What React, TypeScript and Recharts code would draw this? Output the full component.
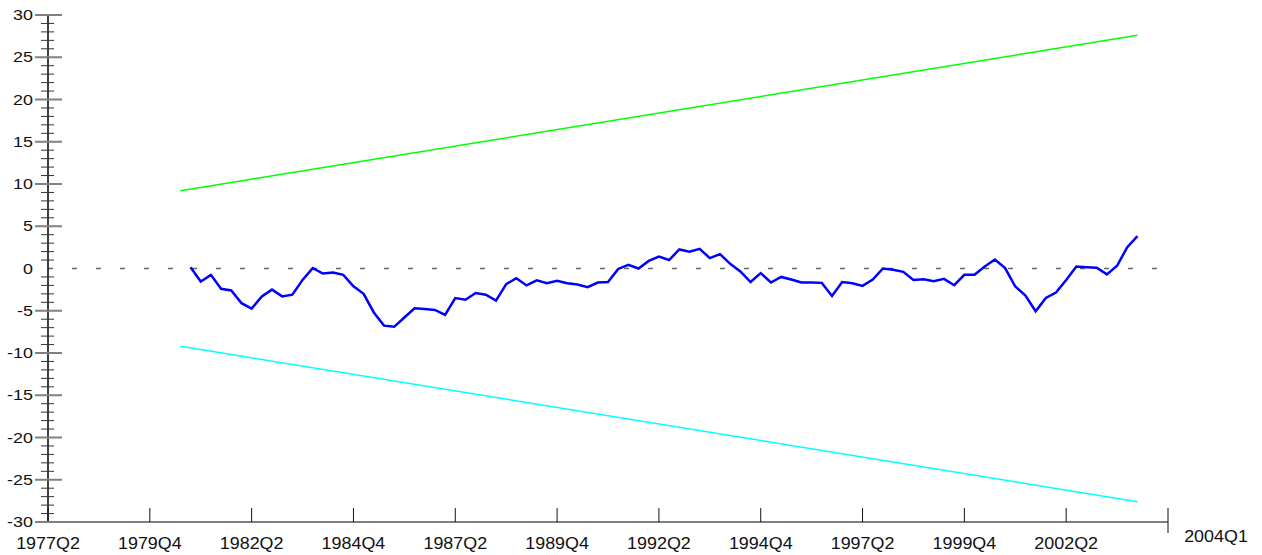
import React from 'react';
import { LineChart, Line, XAxis, YAxis, ReferenceLine } from 'recharts';

// quarter index 0 = 1977Q2, 10 quarters per labelled tick
const xTickPos = [0, 10, 20, 30, 40, 50, 60, 70, 80, 90, 100, 110];
const xTickLabels = ['1977Q2', '1979Q4', '1982Q2', '1984Q4', '1987Q2', '1989Q4', '1992Q2', '1994Q4', '1997Q2', '1999Q4', '2002Q2', '2004Q1'];

const yMajor = [-30, -25, -20, -15, -10, -5, 0, 5, 10, 15, 20, 25, 30];

// CUSUM statistic, first value at quarter 14 (1980Q4)
const cusumStart = 14;
const cusumValues = [
  0.15, -1.54, -0.75, -2.4, -2.6, -4.1, -4.75, -3.3, -2.5, -3.3, -3.1, -1.35, 0.05, -0.6, -0.47, -0.75,
  -2.1, -3.0, -5.2, -6.76, -6.9, -5.8, -4.7, -4.8, -4.9, -5.5, -3.5, -3.7, -2.9, -3.1, -3.8,
  -1.85, -1.15, -2.0, -1.4, -1.74, -1.46, -1.74, -1.9, -2.2, -1.66, -1.6, -0.05, 0.43, 0, 0.9, 1.4,
  1.0, 2.25, 2.0, 2.33, 1.23, 1.7, 0.55, -0.35, -1.6, -0.55, -1.66, -1.0, -1.3, -1.66, -1.66, -1.7,
  -3.25, -1.6, -1.74, -2.06, -1.3, 0, -0.15, -0.4, -1.35, -1.27, -1.5, -1.23, -1.98, -0.75, -0.75,
  0.24, 1.07, 0.04, -2.13, -3.2, -5.06, -3.48, -2.85, -1.35, 0.24, 0.15, 0.08, -0.7, 0.32, 2.53, 3.83,
];

// 5% significance bounds (straight lines)
const boundQuarters = [13, 107];
const upperBound = [9.2, 27.6];
const lowerBound = [-9.2, -27.6];

const cusumData = cusumValues.map((v, i) => ({ q: cusumStart + i, v }));
const upperData = boundQuarters.map((q, i) => ({ q, v: upperBound[i] }));
const lowerData = boundQuarters.map((q, i) => ({ q, v: lowerBound[i] }));

// every unit gets a small tick
const yTicks: number[] = [];
for (let t = -30; t <= 30; t++) yTicks.push(t);

const FONT = '"Liberation Sans", Arial, sans-serif';

const YTick: React.FC<any> = ({ x, y, payload }) => {
  const v = payload.value;
  const major = yMajor.includes(v);
  return (
    <g>
      {v !== 0 && (
        <line
          x1={major ? x - 13 : x - 7}
          x2={major ? x + 14 : x + 6}
          y1={y}
          y2={y}
          stroke={major ? '#808080' : '#333'}
          strokeWidth={major ? 2 : 1}
        />
      )}
      {major && (
        <text
          transform={`translate(${x - 15},${y}) scale(1.28,1)`}
          textAnchor="end"
          dy="0.36em"
          fontSize={14}
          fontFamily={FONT}
          fill="#111"
        >
          {v}
        </text>
      )}
    </g>
  );
};

const XTick: React.FC<any> = ({ x, y, payload, index }) => {
  const last = index === xTickPos.length - 1;
  const label = xTickLabels[xTickPos.indexOf(payload.value)];
  return (
    <g>
      <line x1={x} x2={x} y1={y - 14} y2={last ? y + 11 : y} stroke="#111" strokeWidth={1} />
      <text
        transform={`translate(${last ? x + 48 : x},${last ? y + 20 : y + 27}) scale(1.12,1)`}
        textAnchor="middle"
        fontSize={16}
        fontFamily={FONT}
        fill="#111"
      >
        {label}
      </text>
    </g>
  );
};

const App: React.FC = () => {
  return (
    <div style={{ position: 'absolute', left: 0, top: 0, width: 1262, height: 555, background: '#fff' }}>
      <LineChart width={1262} height={555} margin={{ top: 15, right: 94, bottom: 0, left: 0 }}>
        <XAxis
          type="number"
          dataKey="q"
          domain={[0, 110]}
          ticks={xTickPos}
          interval={0}
          height={33}
          tickSize={0}
          tickMargin={0}
          tickLine={false}
          axisLine={{ stroke: '#808080', strokeWidth: 2 }}
          tick={<XTick />}
          allowDuplicatedCategory={false}
        />
        <YAxis
          type="number"
          domain={[-30, 30]}
          ticks={yTicks}
          interval={0}
          width={48}
          tickSize={0}
          tickMargin={0}
          tickLine={false}
          axisLine={{ stroke: '#000', strokeWidth: 1.5 }}
          tick={<YTick />}
        />
        <ReferenceLine y={0} stroke="#666" strokeWidth={1.5} strokeDasharray="5 19" />
        <Line data={upperData} dataKey="v" stroke="#00ff00" strokeWidth={1.5} dot={false} isAnimationActive={false} />
        <Line data={lowerData} dataKey="v" stroke="#00ffff" strokeWidth={1.5} dot={false} isAnimationActive={false} />
        <Line data={cusumData} dataKey="v" stroke="#0000ff" strokeWidth={2.5} dot={false} isAnimationActive={false} />
      </LineChart>
    </div>
  );
};

export default App;
